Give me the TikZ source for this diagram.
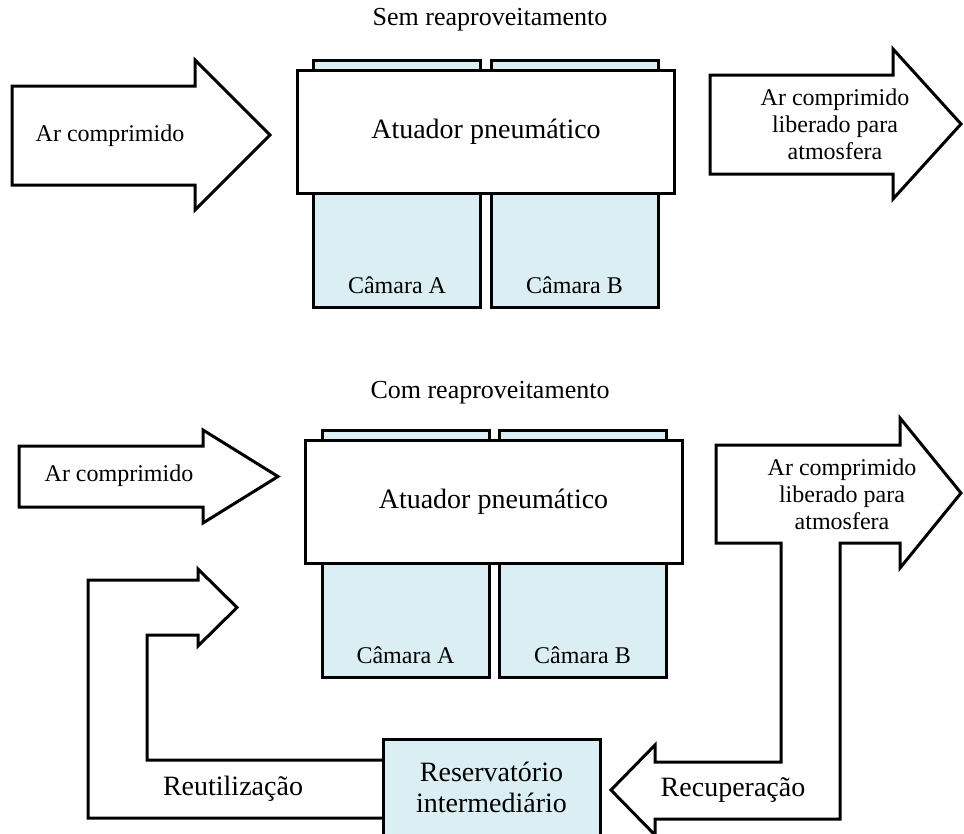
\documentclass[tikz,border=0pt]{standalone}
\usepackage{fontspec}
\setmainfont{Liberation Serif}
\usetikzlibrary{positioning}
\definecolor{camfill}{RGB}{219,238,244}
\tikzset{
  blk/.style={draw, line width=3pt, fill=white, line join=miter},
  atu/.style={draw, line width=3pt, fill=white, minimum width=377pt, minimum height=123pt,
    inner sep=0pt, outer sep=0pt, font=\fontsize{28}{31}\selectfont},
  cam/.style={draw, line width=3pt, fill=camfill, minimum width=167pt, minimum height=247pt,
    inner sep=0pt, outer sep=0pt},
  res/.style={cam, minimum width=217pt, minimum height=97pt, align=center,
    font=\fontsize{28}{31}\selectfont},
  tx/.style={align=center, inner sep=0pt, font=\fontsize{24}{27}\selectfont},
  tg/.style={align=center, inner sep=0pt, font=\fontsize{28}{31}\selectfont},
  tit/.style={inner sep=0pt, font=\fontsize{26}{30}\selectfont},
}

\begin{document}
\begin{tikzpicture}[x=1pt, y=-1pt]
\useasboundingbox (0,0) rectangle (964,833);
\clip (0,0) rectangle (964,833);
% sem reaproveitamento
\node[tit] (t1) at (490,20) {Sem reaproveitamento};
\node[cam] (ca1) at (397,183.5) {};
\node[cam] (cb1) at (574.5,183.5) {};
\node[atu] (at1) at (486,131.5) {Atuador pneumático};
\node[tx] (la1) at ([yshift=22pt]ca1.south) {Câmara A};
\node[tx] (lb1) at ([yshift=22pt]cb1.south) {Câmara B};
\draw[blk] (12,86) -- (195,86) -- (195,60) -- (270,135) -- (195,210) -- (195,185) -- (12,185) -- cycle;
\node[tx] (ar1) at (110,136) {Ar comprimido};
\draw[blk] (710,75) -- (893,75) -- (893,49) -- (961,124) -- (893,199) -- (893,174) -- (710,174) -- cycle;
\node[tx] (lib1) at (835,124) {Ar comprimido\\liberado para\\atmosfera};
% com reaproveitamento
\node[tit] (t2) at (490,393) {Com reaproveitamento};
\node[cam] (ca2) at (405.5,554) {};
\node[cam] (cb2) at (582.5,554) {};
\node[atu] (at2) at (493.5,501.5) {Atuador pneumático};
\node[tx] (la2) at ([yshift=22pt]ca2.south) {Câmara A};
\node[tx] (lb2) at ([yshift=22pt]cb2.south) {Câmara B};
\draw[blk] (19,446) -- (203,446) -- (203,430) -- (278,476.5) -- (203,523) -- (203,507) -- (19,507) -- cycle;
\node[tx] (ar2) at (119,476) {Ar comprimido};
% saida + recuperacao
\draw[blk] (716,445) -- (900,445) -- (900,418) -- (961,493) -- (900,568) -- (900,543) -- (840,543)
  -- (840,819) -- (655,819) -- (655,835) -- (611,790) -- (655,745) -- (655,762) -- (781,762)
  -- (781,543) -- (716,543) -- cycle;
\node[tx] (lib2) at (842,494) {Ar comprimido\\liberado para\\atmosfera};
\node[tg] (rec) at (733,790) {Recuperação};
% reutilizacao
\draw[blk] (400,818) -- (88,818) -- (88,580) -- (198,580) -- (198,569) -- (237,607.5) -- (198,646)
  -- (198,635) -- (147,635) -- (147,760) -- (400,760);
\node[tg] (reu) at (233,789) {Reutilização};
\node[res] (rs) at (491.5,787.5) {Reservatório\\intermediário};
\end{tikzpicture}
\end{document}
